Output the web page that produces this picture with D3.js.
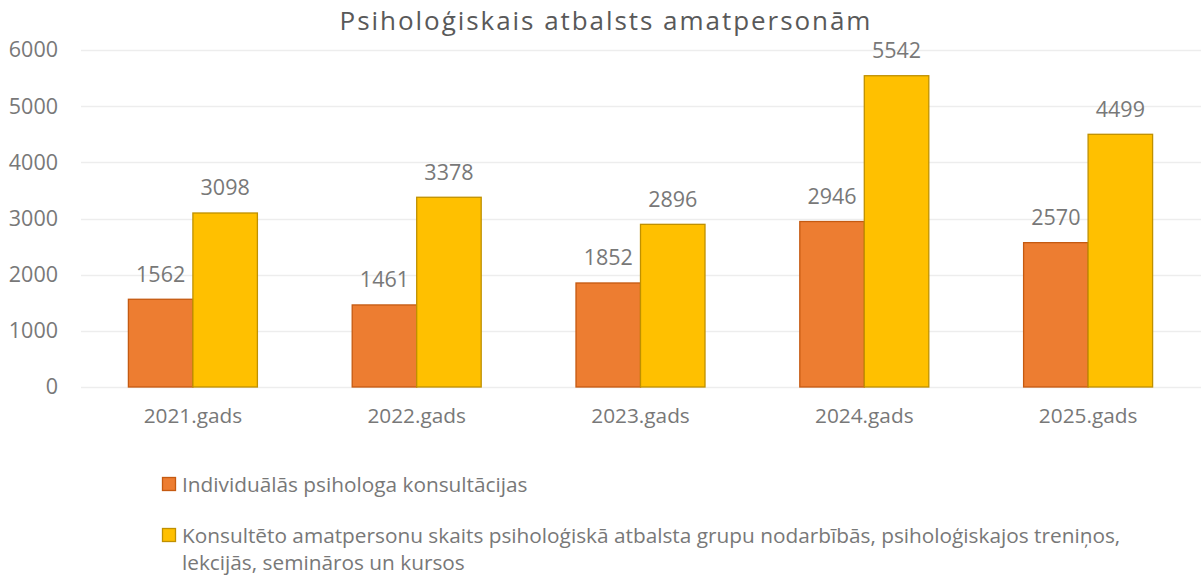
<!DOCTYPE html>
<html>
<head>
<meta charset="utf-8">
<script src="https://cdn.jsdelivr.net/npm/d3@7"></script>
<style>
  body { margin: 0; background: #fff; }
  svg { display: block; font-family: "Open Sans", sans-serif; }
</style>
</head>
<body>
<div id="chart"></div>
<script>
const years = ['2021.gads', '2022.gads', '2023.gads', '2024.gads', '2025.gads']
const individual = [1562, 1461, 1852, 2946, 2570]
const groups = [3098, 3378, 2896, 5542, 4499]
const seriesNames = [
    'Individuālās psihologa konsultācijas',
    'Konsultēto amatpersonu skaits psiholoģiskā atbalsta grupu nodarbībās, psiholoģiskajos treniņos,|lekcijās, semināros un kursos'
]
const yTicks = [0, 1000, 2000, 3000, 4000, 5000, 6000]

const width = 1201
const height = 576
const fills = ['#ED7D31', '#FFC000']
const strokes = ['#C55A11', '#BF9000']
const textColor = '#787878'
const fontSize = 20.8
const numSize = 21.5

const svg = d3.select('#chart')
    .append('svg')
    .attr('width', width)
    .attr('height', height)

// Scales
const xScale = d3.scaleBand()
    .domain(years)
    .range([81, 1200])

const yScale = d3.scaleLinear()
    .domain([0, 6000])
    .range([387, 50])

const barWidth = 64.5
const series = [individual, groups]

// Title
svg.append('text')
    .attr('x', 606)
    .attr('y', 30)
    .attr('text-anchor', 'middle')
    .attr('font-size', 26)
    .attr('letter-spacing', 1.95)
    .attr('fill', '#595959')
    .text('Psiholoģiskais atbalsts amatpersonām')

// Gridlines
svg.append('g')
    .selectAll('line')
    .data(yTicks)
    .enter()
    .append('line')
    .attr('x1', 81)
    .attr('x2', 1201)
    .attr('y1', d => Math.round(yScale(d)) + 0.5)
    .attr('y2', d => Math.round(yScale(d)) + 0.5)
    .attr('stroke', '#EDEDED')
    .attr('stroke-width', 1.3)

// Y axis labels
const yAxis = d3.axisLeft(yScale)
    .tickValues(yTicks)
    .tickFormat(d3.format('d'))
    .tickSize(0)
    .tickPadding(0)
const yG = svg.append('g')
    .attr('transform', 'translate(58, 0)')
    .call(yAxis)
yG.select('.domain').remove()
yG.selectAll('text')
    .attr('font-size', numSize)
    .attr('font-family', '"Open Sans", sans-serif')
    .attr('fill', textColor)

// X axis labels
const xAxis = d3.axisBottom(xScale).tickSize(0).tickPadding(0)
const xG = svg.append('g')
    .attr('transform', 'translate(0, 408)')
    .call(xAxis)
xG.select('.domain').remove()
xG.selectAll('text')
    .attr('font-size', fontSize)
    .attr('font-family', '"Open Sans", sans-serif')
    .attr('fill', textColor)

// Bars
series.forEach((vals, s) => {
    const g = svg.append('g')
    g.selectAll('rect')
        .data(vals)
        .enter()
        .append('rect')
        .attr('x', (d, i) => xScale(years[i]) + xScale.bandwidth() / 2 - barWidth + s * barWidth)
        .attr('y', d => yScale(d))
        .attr('width', barWidth)
        .attr('height', d => yScale(0) - yScale(d))
        .attr('fill', fills[s])
        .attr('stroke', strokes[s])
        .attr('stroke-width', 1.3)

    g.selectAll('text')
        .data(vals)
        .enter()
        .append('text')
        .attr('x', (d, i) => xScale(years[i]) + xScale.bandwidth() / 2 - barWidth / 2 + s * barWidth)
        .attr('y', d => yScale(d) - 17.5)
        .attr('text-anchor', 'middle')
        .attr('font-size', numSize)
        .attr('fill', textColor)
        .text(d => d)
})

// Legend
const legendY = [484, 535]
const legend = svg.append('g')
seriesNames.forEach((name, s) => {
    legend.append('rect')
        .attr('x', 162.5)
        .attr('y', legendY[s] - 6.5)
        .attr('width', 13)
        .attr('height', 13)
        .attr('fill', fills[s])
        .attr('stroke', strokes[s])
        .attr('stroke-width', 1.3)
    const t = legend.append('text')
        .attr('x', 182)
        .attr('y', legendY[s] + 7.5)
        .attr('font-size', fontSize)
        .attr('fill', textColor)
    name.split('|').forEach((line, k) => {
        t.append('tspan')
            .attr('x', 182)
            .attr('dy', k === 0 ? 0 : 27)
            .text(line)
    })
})
</script>
</body>
</html>
